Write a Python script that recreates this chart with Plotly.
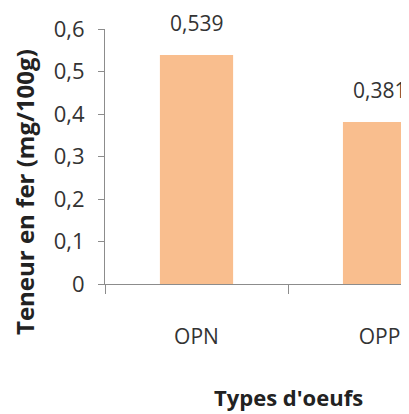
import plotly.graph_objects as go

categories = ["OPN", "OPP"]
values = [0.539, 0.381]
value_labels = ["0,539", "0,381"]
y_ticks = [0, 0.1, 0.2, 0.3, 0.4, 0.5, 0.6]

x_pos = list(range(len(categories)))
bar_color = "#F9BE8E"
axis_color = "#8C8C8C"
font_family = "Open Sans, Noto Sans, sans-serif"
text_color = "#333333"

# page body has an 8px margin, so the figure is shifted by 8px
OFF = 8
fig = go.Figure()
fig.add_trace(go.Bar(
    x=x_pos, y=values, width=0.4,
    marker=dict(color=bar_color, line=dict(width=0)),
    hoverinfo="skip",
))

for xp, v, t in zip(x_pos, values, value_labels):
    fig.add_annotation(x=xp, y=v, xref="x", yref="y", text=t, showarrow=False,
                       yanchor="bottom", yshift=16,
                       font=dict(family=font_family, size=21, color=text_color))

fig.add_annotation(xref="paper", yref="paper", x=(24 - 105) / 304, y=(284 - 192) / 255,
                   text="<b>Teneur en fer (mg/100g)</b>", textangle=-90, showarrow=False,
                   xanchor="center", yanchor="middle",
                   font=dict(family=font_family, size=24, color="#222222"))
fig.add_annotation(xref="x", yref="paper", x=0.5, y=(284 - 397) / 255,
                   text="<b>Types d'oeufs</b>", showarrow=False,
                   xanchor="center", yanchor="middle",
                   font=dict(family=font_family, size=22, color="#222222"))

fig.update_layout(
    width=409 - OFF, height=414 - OFF,
    margin=dict(l=105 - OFF, r=0, t=29 - OFF, b=130, pad=0),
    plot_bgcolor="white", paper_bgcolor="white",
    separators=",.",
    showlegend=False,
)
fig.update_xaxes(
    range=[-0.5, 1.161],
    tickvals=x_pos, ticktext=categories,
    ticks="", ticklabelstandoff=34,
    tickfont=dict(family=font_family, size=21, color=text_color),
    showline=True, linecolor=axis_color, linewidth=1,
    showgrid=False, zeroline=False,
    minor=dict(tickvals=[-0.5, 0.5, 1.5], ticks="outside", ticklen=9,
               tickcolor=axis_color, tickwidth=1, showgrid=False),
)
fig.update_yaxes(
    range=[0, 0.6],
    tickvals=y_ticks,
    ticks="outside", ticklen=6, tickcolor=axis_color, tickwidth=1,
    ticklabelstandoff=9,
    tickfont=dict(family=font_family, size=22, color=text_color),
    showline=True, linecolor=axis_color, linewidth=1,
    showgrid=False, zeroline=False,
)

fig.write_html("out.html")
